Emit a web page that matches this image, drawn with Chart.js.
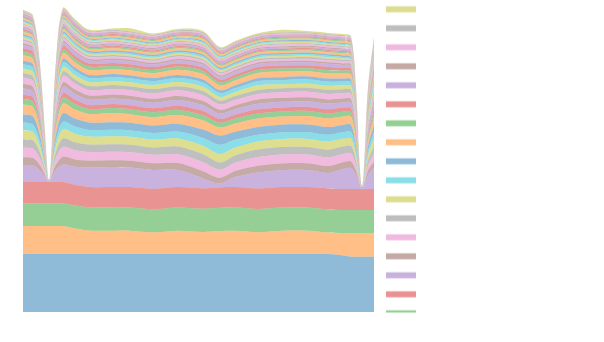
<!DOCTYPE html>
<html>
<head>
<meta charset="utf-8">
<script src="https://cdn.jsdelivr.net/npm/chart.js@4/dist/chart.umd.min.js"></script>
<style>
  html, body { margin: 0; padding: 0; background: #fff; }
  #wrap { width: 604px; height: 342px; }
</style>
</head>
<body>
<div id="wrap"><canvas id="chart" width="604" height="342"></canvas></div>
<script>
// x positions of the samples
const xPos = [0, 10, 17, 22, 26, 29, 33, 40, 52, 66, 90, 107, 130, 155, 180, 197, 212, 235, 260, 285, 305, 320, 328, 333, 339, 345, 351];

// stacked series, bottom first
const s00 = [58, 58, 58, 58, 58, 58, 58, 58, 58, 58, 58, 58, 58, 58, 58, 58, 58, 58, 58, 58, 58, 56.5, 55.3, 55.3, 55.3, 55.3, 55.3];
const s01 = [28, 28, 28, 28, 28, 28, 28, 28, 25.5, 23.5, 23.3, 23.3, 21.5, 23.3, 22, 23, 23.3, 21.8, 23.3, 23.3, 21.5, 22.5, 23.7, 23.7, 23.7, 23.7, 23.7];
const s02 = [22.7, 22.7, 22.7, 22.7, 22.7, 22.7, 22.7, 22.7, 23, 23.3, 23.3, 23.3, 23.3, 23.3, 23.3, 23.3, 23.3, 23.3, 23.3, 23.3, 23, 23, 23, 23, 23, 23, 23];
const s03 = [21.3, 21.3, 21.3, 21.3, 21.3, 21.3, 21.3, 21.3, 20.8, 20.3, 20.3, 20.3, 20.3, 20.3, 20.3, 20.3, 20.3, 20.3, 20.3, 20.3, 21, 21, 21, 21, 21, 21, 21];
const s04 = [17, 16.5, 11.5, 5, 0.1, 5, 12, 17.5, 18, 19.5, 20, 19.5, 19, 17, 10, 4, 10, 16, 17, 17, 15.5, 20, 21, 14, 0.1, 14, 21];
const s05 = [7.7, 7.4, 5.3, 2.2, 0.1, 2.1, 5.4, 7.8, 7.3, 6.8, 6.8, 6.8, 6.7, 7.0, 7.2, 5.6, 6.0, 6.9, 6.9, 6.9, 6.9, 6.7, 6.5, 4.4, 0.1, 4.4, 6.5];
const s06 = [9.6, 9.3, 6.6, 2.8, 0.1, 2.6, 6.8, 9.7, 9.1, 8.5, 8.5, 8.5, 8.4, 8.8, 9.0, 8.1, 8.3, 8.6, 8.6, 8.6, 8.7, 8.3, 8.2, 5.4, 0.1, 5.4, 8.1];
const s07 = [8.5, 8.2, 5.9, 2.5, 0.1, 2.3, 6.0, 8.6, 8.0, 7.5, 7.5, 7.5, 7.4, 7.7, 8.0, 7.2, 7.4, 7.6, 7.6, 7.6, 7.7, 7.4, 7.2, 4.8, 0.1, 4.8, 7.2];
const s08 = [9.0, 8.7, 6.2, 2.6, 0.1, 2.5, 6.4, 9.1, 8.6, 8.0, 8.0, 8.0, 7.9, 8.2, 8.5, 8.4, 7.8, 8.1, 8.1, 8.1, 8.2, 7.8, 7.7, 5.1, 0.1, 5.1, 7.6];
const s09 = [7.5, 7.2, 5.1, 2.2, 0.1, 2.0, 5.3, 7.5, 7.1, 6.6, 6.6, 6.6, 6.5, 6.8, 7.8, 9.3, 7.8, 6.7, 6.7, 6.7, 6.7, 6.5, 6.3, 4.2, 0.1, 4.2, 6.3];
const s10 = [8.5, 8.2, 5.9, 2.5, 0.1, 2.3, 6.0, 8.6, 8.0, 7.5, 7.5, 7.5, 7.4, 7.7, 8.4, 9.2, 8.0, 7.6, 7.6, 7.6, 7.7, 7.4, 7.2, 4.8, 0.1, 4.8, 7.2];
const s11 = [9.6, 9.3, 6.6, 2.8, 0.1, 2.6, 6.8, 9.7, 9.1, 8.5, 9.3, 8.5, 8.4, 8.8, 9.0, 8.1, 8.3, 8.6, 8.1, 8.6, 8.7, 8.3, 8.2, 5.4, 0.1, 5.4, 8.1];
const s12 = [5.7, 5.5, 3.9, 1.7, 0.1, 1.6, 4.0, 5.7, 5.4, 5.0, 5.0, 5.0, 5.0, 5.2, 5.3, 4.8, 4.9, 5.1, 5.1, 5.1, 5.1, 4.9, 4.8, 3.2, 0.1, 3.2, 4.8];
const s13 = [4.5, 4.4, 3.1, 1.3, 0, 1.2, 3.2, 4.6, 4.3, 4.0, 4.0, 4.0, 4.0, 4.1, 4.2, 3.8, 3.9, 4.1, 4.0, 4.0, 4.1, 3.9, 3.8, 2.6, 0, 2.6, 3.8];
const s14 = [6.2, 6.0, 4.3, 1.8, 0.1, 1.7, 4.4, 6.3, 5.9, 5.5, 5.5, 5.5, 5.4, 5.7, 5.8, 5.3, 5.4, 5.6, 5.6, 5.6, 5.6, 5.4, 5.3, 3.5, 0.1, 3.5, 5.3];
const s15 = [4.5, 4.4, 3.1, 1.3, 0, 1.2, 3.2, 4.6, 4.3, 4.0, 4.0, 4.0, 4.0, 4.1, 4.2, 3.8, 3.9, 4.1, 4.0, 4.0, 4.1, 3.9, 3.8, 2.6, 0, 2.6, 3.8];
const s16 = [6.2, 6.0, 4.3, 1.8, 0.1, 1.7, 4.4, 6.3, 5.9, 5.5, 5.5, 5.5, 5.4, 5.7, 5.8, 5.3, 5.4, 5.6, 5.6, 5.6, 5.6, 5.4, 5.3, 3.5, 0.1, 3.5, 5.3];
const s17 = [4.5, 4.4, 3.1, 1.3, 0, 1.2, 3.2, 4.6, 4.3, 4.0, 4.0, 4.0, 4.4, 4.1, 4.2, 3.8, 3.9, 4.1, 4.0, 4.0, 4.1, 3.9, 3.8, 2.6, 0, 2.6, 3.8];
const s18 = [4.5, 4.4, 3.1, 1.3, 0, 1.2, 3.2, 4.6, 4.3, 4.0, 4.0, 4.0, 4.0, 4.1, 4.2, 3.8, 3.9, 4.6, 4.0, 4.0, 4.1, 3.9, 3.8, 2.6, 0, 2.6, 3.8];
const s19 = [4.5, 4.4, 3.1, 1.3, 0, 1.2, 3.2, 4.6, 4.3, 4.0, 4.0, 4.0, 4.0, 4.1, 4.2, 3.8, 3.9, 4.1, 4.0, 4.3, 4.1, 3.9, 3.8, 2.6, 0, 2.6, 3.8];
const s20 = [3.4, 3.3, 2.3, 1.0, 0, 0.9, 2.4, 3.4, 3.2, 3.0, 3.0, 3.0, 3.0, 3.1, 3.2, 2.9, 2.9, 3.0, 3.0, 3.0, 3.1, 2.9, 2.9, 1.9, 0, 1.9, 2.9];
const s21 = [5.7, 5.5, 3.9, 1.7, 0.1, 1.6, 4.0, 5.7, 5.4, 5.0, 5.0, 5.0, 5.0, 5.2, 5.3, 4.8, 4.9, 5.1, 5.6, 5.1, 5.1, 4.9, 4.8, 3.2, 0.1, 3.2, 4.8];
const s22 = [3.4, 3.3, 2.3, 1.0, 0, 0.9, 2.4, 3.4, 3.2, 3.5, 3.0, 3.0, 3.0, 3.1, 3.2, 2.9, 2.9, 3.0, 3.0, 3.0, 3.1, 2.9, 2.9, 1.9, 0, 1.9, 2.9];
const s23 = [3.4, 3.3, 2.3, 1.0, 0, 0.9, 2.4, 3.4, 3.2, 3.0, 3.0, 3.0, 3.0, 3.1, 3.2, 2.9, 2.9, 3.0, 3.0, 3.0, 3.4, 2.9, 2.9, 1.9, 0, 1.9, 2.9];
const s24 = [3.4, 3.3, 2.3, 1.0, 0, 0.9, 2.4, 3.4, 3.2, 3.0, 3.0, 3.0, 2.7, 3.1, 3.2, 2.9, 2.9, 3.0, 3.0, 3.0, 3.1, 2.9, 2.9, 1.9, 0, 1.9, 2.9];
const s25 = [1.7, 1.6, 1.2, 0.5, 0, 0.5, 1.2, 1.7, 1.6, 1.5, 1.5, 1.5, 1.5, 1.5, 1.6, 1.4, 1.5, 1.5, 1.5, 1.5, 1.5, 1.5, 1.4, 1.0, 0, 1.0, 1.4];
const s26 = [2.3, 2.2, 1.6, 0.7, 0, 0.6, 1.6, 2.3, 2.1, 2.0, 2.0, 2.0, 2.0, 2.5, 2.1, 1.9, 2.0, 2.0, 2.0, 2.0, 2.0, 2.0, 1.9, 1.3, 0, 1.3, 1.9];
const s27 = [1.7, 1.6, 1.2, 0.5, 0, 0.5, 1.2, 1.7, 1.6, 1.5, 1.5, 1.5, 1.5, 1.5, 1.6, 1.4, 1.5, 1.5, 1.5, 1.8, 1.5, 1.5, 1.4, 1.0, 0, 1.0, 1.4];
const s28 = [1.7, 1.6, 1.2, 0.5, 0, 0.5, 1.2, 1.7, 1.6, 1.5, 1.5, 1.5, 1.5, 1.5, 1.6, 1.7, 1.5, 1.5, 1.5, 1.5, 1.5, 1.5, 1.4, 1.0, 0, 1.0, 1.4];
const s29 = [1.7, 1.6, 1.2, 0.5, 0, 0.5, 1.2, 1.7, 1.6, 1.5, 1.5, 1.5, 1.5, 1.5, 1.6, 1.4, 1.5, 1.5, 1.5, 1.5, 1.5, 1.5, 1.4, 1.0, 0, 1.0, 1.4];
const s30 = [1.7, 1.6, 1.2, 0.5, 0, 0.5, 1.2, 1.7, 1.6, 1.5, 1.5, 1.5, 1.5, 1.5, 1.6, 1.4, 1.5, 1.5, 1.5, 1.5, 1.5, 1.5, 1.4, 1.0, 0, 1.0, 1.4];
const s31 = [2.3, 2.2, 1.6, 0.7, 0, 0.6, 1.6, 2.3, 2.1, 2.0, 2.5, 2.0, 2.0, 2.1, 2.1, 1.9, 2.0, 2.0, 2.0, 2.0, 2.0, 2.0, 1.9, 1.3, 0, 1.3, 1.9];
const s32 = [1.4, 1.3, 0.9, 0.4, 0, 0.4, 1.0, 1.4, 1.3, 1.2, 1.2, 1.2, 1.2, 1.2, 1.3, 1.1, 1.2, 1.2, 1.2, 1.2, 1.2, 1.2, 1.2, 0.8, 0, 0.8, 1.1];
const s33 = [1.4, 1.3, 0.9, 0.4, 0, 0.4, 1.0, 1.4, 1.3, 1.2, 1.2, 1.2, 1.2, 1.2, 1.3, 1.1, 1.2, 1.2, 1.2, 1.2, 1.2, 1.2, 1.2, 0.8, 0, 0.8, 1.1];
const s34 = [1.5, 1.4, 1.0, 0.4, 0, 0.4, 1.0, 1.5, 1.4, 1.3, 1.3, 1.3, 1.3, 1.3, 1.4, 1.2, 1.3, 1.3, 1.3, 1.3, 1.3, 1.3, 1.2, 0.8, 0, 0.8, 1.2];
const s35 = [1.1, 1.1, 0.8, 0.3, 0, 0.3, 0.8, 1.1, 1.1, 1.0, 1.0, 1.0, 1.0, 1.0, 1.1, 1.0, 1.0, 1.0, 1.0, 1.0, 1.0, 1.0, 1.0, 0.6, 0, 0.6, 1.0];
const s36 = [1.7, 1.6, 1.2, 0.5, 0, 0.5, 1.2, 1.7, 1.6, 1.5, 1.5, 1.5, 1.5, 1.5, 1.6, 1.4, 1.5, 1.5, 1.9, 1.5, 1.5, 1.5, 1.4, 1.0, 0, 1.0, 1.4];
const s37 = [1.1, 1.1, 0.8, 0.3, 0, 0.3, 0.8, 1.1, 1.1, 1.0, 1.0, 1.0, 1.0, 1.0, 1.1, 1.0, 1.0, 1.0, 1.0, 1.0, 1.0, 1.0, 1.0, 0.6, 0, 0.6, 1.0];
const s38 = [1.4, 1.3, 0.9, 0.4, 0, 0.4, 1.0, 1.4, 1.3, 1.2, 1.2, 1.2, 1.2, 1.2, 1.3, 1.1, 1.2, 1.2, 1.2, 1.2, 1.2, 1.2, 1.2, 0.8, 0, 0.8, 1.1];
const s39 = [1.1, 1.1, 0.8, 0.3, 0, 0.3, 0.8, 1.1, 1.1, 1.0, 1.0, 1.0, 1.0, 1.0, 1.1, 1.0, 1.0, 1.0, 1.0, 1.0, 1.0, 1.0, 1.0, 0.6, 0, 0.6, 1.0];
const s40 = [1.1, 1.1, 0.8, 0.3, 0, 0.3, 0.8, 1.1, 1.1, 1.0, 1.0, 1.0, 1.0, 1.0, 1.1, 1.0, 1.0, 1.0, 1.0, 1.0, 1.0, 1.0, 1.0, 0.6, 0, 0.6, 1.0];
const s41 = [1.7, 1.6, 1.2, 0.5, 0, 0.5, 1.2, 1.7, 1.6, 1.5, 1.5, 1.5, 1.5, 1.5, 2.0, 1.4, 1.5, 1.5, 1.5, 1.5, 1.5, 1.5, 1.4, 1.0, 0, 1.0, 1.4];
const s42 = [1.1, 1.1, 0.8, 0.3, 0, 0.3, 0.8, 1.1, 1.1, 1.0, 1.0, 1.0, 1.0, 1.0, 1.1, 1.0, 1.0, 1.0, 1.0, 1.0, 1.0, 1.0, 1.0, 0.6, 0, 0.6, 1.0];
const s43 = [1.1, 1.1, 0.8, 0.3, 0, 0.3, 0.8, 1.1, 1.1, 1.0, 1.0, 1.0, 1.0, 1.0, 1.1, 1.0, 1.0, 1.0, 1.0, 1.0, 1.0, 1.0, 1.0, 0.6, 0, 0.6, 1.0];
const s44 = [1.4, 1.3, 0.9, 0.4, 0, 0.4, 1.0, 1.4, 1.3, 1.2, 1.2, 1.2, 1.2, 1.2, 1.3, 1.1, 1.2, 1.2, 1.2, 1.2, 1.2, 1.2, 1.2, 0.8, 0, 0.8, 1.1];
const s45 = [0.9, 0.9, 0.6, 0.3, 0, 0.2, 0.6, 0.9, 0.9, 0.8, 0.8, 0.8, 0.8, 0.8, 0.8, 0.8, 0.8, 0.8, 0.8, 0.8, 0.8, 0.8, 0.8, 0.5, 0, 0.5, 0.8];
const s46 = [1.4, 1.3, 0.9, 0.4, 0, 0.4, 1.0, 1.4, 1.3, 1.2, 1.2, 1.2, 1.2, 1.2, 1.3, 1.1, 1.2, 1.2, 1.2, 1.2, 1.2, 1.2, 1.2, 0.8, 0, 0.8, 1.1];
const s47 = [1.1, 1.1, 0.8, 0.3, 0, 0.3, 0.8, 1.1, 1.1, 1.0, 1.0, 1.0, 1.0, 1.0, 1.1, 1.0, 1.0, 1.0, 1.0, 1.0, 1.0, 1.0, 1.0, 0.6, 0, 0.6, 1.0];
const s48 = [1.5, 1.4, 1.0, 0.4, 0, 0.4, 1.0, 1.5, 1.4, 1.3, 1.3, 3.3, 1.3, 1.3, 1.4, 1.2, 1.3, 1.3, 2.8, 1.3, 1.3, 1.3, 1.2, 0.8, 0, 0.8, 1.2];

const seriesValues = [s00, s01, s02, s03, s04, s05, s06, s07, s08, s09, s10, s11, s12, s13, s14, s15, s16,
  s17, s18, s19, s20, s21, s22, s23, s24, s25, s26, s27, s28, s29, s30, s31, s32, s33, s34, s35, s36,
  s37, s38, s39, s40, s41, s42, s43, s44, s45, s46, s47, s48];

// tab10 palette, drawn at half opacity
const palette = [
  [31, 119, 180], [255, 127, 14], [44, 160, 44], [214, 39, 40], [148, 103, 189],
  [140, 86, 75], [227, 119, 194], [127, 127, 127], [188, 189, 34], [23, 190, 207]
];
const rgba = (c, a) => `rgba(${c[0]}, ${c[1]}, ${c[2]}, ${a})`;

const datasets = seriesValues.map((vals, i) => ({
  label: '',
  data: vals.map((v, j) => ({ x: xPos[j], y: v })),
  backgroundColor: rgba(palette[i % 10], 0.5),
  borderWidth: 0,
  pointRadius: 0,
  fill: i === 0 ? 'origin' : '-1',
  tension: 0.3
}));

// legend: handles only, last series on top, running past the bottom of the axes
const handleLegend = {
  id: 'handleLegend',
  afterDraw(chart) {
    const ctx = chart.ctx;
    const dsList = chart.data.datasets;
    ctx.save();
    ctx.beginPath();
    ctx.rect(380, 0, 224, 312.5);
    ctx.clip();
    for (let k = 0; k < dsList.length; k++) {
      const y = 9.3 + 19 * k;
      if (y - 4 > 313) break;
      const c = palette[(dsList.length - 1 - k) % 10];
      ctx.fillStyle = rgba(c, 0.25);
      ctx.fillRect(386, y - 3.5, 30, 7);
      ctx.fillStyle = rgba(c, 0.34);
      ctx.fillRect(386, y - 2.5, 30, 5);
    }
    ctx.restore();
  }
};

new Chart(document.getElementById('chart').getContext('2d'), {
  type: 'line',
  data: { datasets: datasets },
  options: {
    responsive: false,
    animation: false,
    layout: { padding: { left: 23, top: 5, right: 230, bottom: 30 } },
    plugins: {
      legend: { display: false },
      tooltip: { enabled: false }
    },
    scales: {
      x: { type: 'linear', min: 0, max: 351, display: false },
      y: { stacked: true, min: 0, max: 307, display: false }
    }
  },
  plugins: [handleLegend]
});
</script>
</body>
</html>
